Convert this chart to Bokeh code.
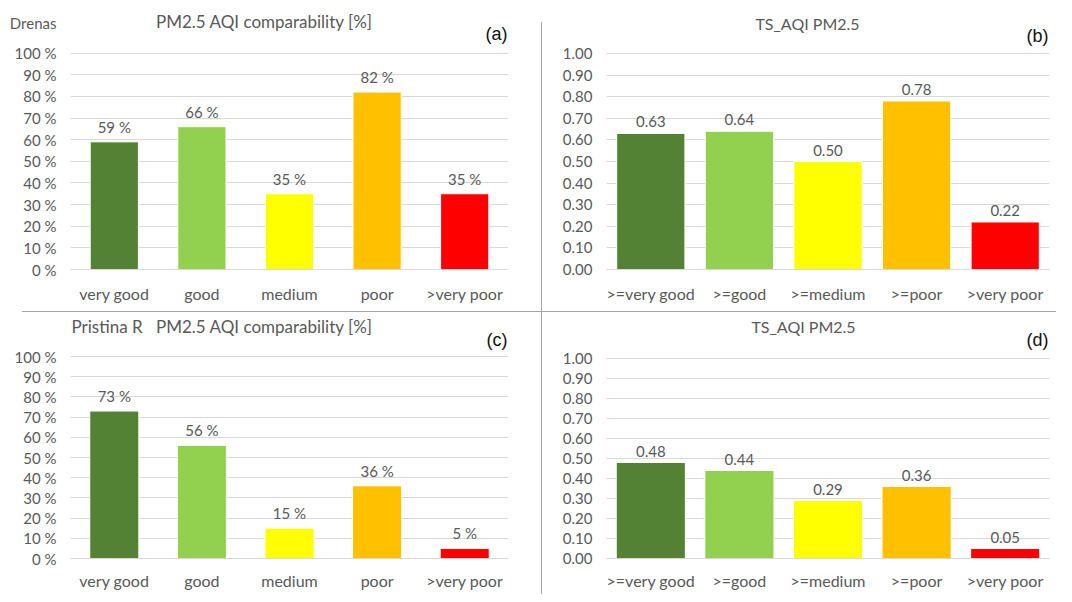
from bokeh.plotting import figure
from bokeh.models import (FactorRange, Range1d, ColumnDataSource, LabelSet, Label,
                          PrintfTickFormatter, FixedTicker, Div)
from bokeh.layouts import row, column
from bokeh.core.properties import value
from bokeh.embed import file_html
from bokeh.resources import INLINE

# ---- data ----
categories_pct = ["very good", "good", "medium", "poor", ">very poor"]
categories_ts = [">=very good", ">=good", ">=medium", ">=poor", ">very poor"]
bar_colors = ["#548235", "#92D050", "#FFFF00", "#FFC000", "#FF0000"]
drenas_pct = [59, 66, 35, 82, 35]
drenas_ts = [0.63, 0.64, 0.50, 0.78, 0.22]
pristina_pct = [73, 56, 15, 36, 5]
pristina_ts = [0.48, 0.44, 0.29, 0.36, 0.05]
pct_ticks = [0, 10, 20, 30, 40, 50, 60, 70, 80, 90, 100]
ts_ticks = [0.0, 0.1, 0.2, 0.3, 0.4, 0.5, 0.6, 0.7, 0.8, 0.9, 1.0]
station_names = ["Drenas", "Pristina R"]
title_pct = "PM2.5 AQI comparability [%]"
title_ts = "TS_AQI PM2.5"
panel_tags = ["(a)", "(b)", "(c)", "(d)"]

FONT = "Lato"
TXT = "#595959"
GRID = "#d9d9d9"
DIVIDER = "#a6a6a6"


def make_panel(w, h, cats, vals, texts, ticks, fmt, bw, left, right, bottom,
               grid_top_px, title, title_cx, title_cy, title_size, tag, tag_rx,
               tag_cy, station=None, station_mode="axis", station_x=0,
               x_standoff=8):
    top_val = ticks[-1]
    fh = h - bottom                       # frame height (frame reaches canvas top)
    y_end = top_val * fh / (fh - grid_top_px)
    p = figure(width=w, height=h, x_range=FactorRange(*cats, range_padding=0),
               y_range=Range1d(0, y_end), output_backend="svg",
               toolbar_location=None, min_border_left=left, min_border_right=right,
               min_border_top=0, min_border_bottom=bottom)
    p.outline_line_color = None
    p.background_fill_color = "white"
    p.border_fill_color = "white"
    src = ColumnDataSource(dict(x=cats, top=vals, color=bar_colors, label=texts))
    p.vbar(x="x", top="top", width=bw, fill_color="color", line_color="white",
           line_width=1, source=src)
    p.add_layout(LabelSet(x="x", y="top", text="label", source=src,
                          text_align="center", text_baseline="bottom", y_offset=6,
                          text_font=value(FONT), text_font_size="15px",
                          text_color=TXT))
    p.xgrid.grid_line_color = None
    p.ygrid.grid_line_color = GRID
    p.ygrid.ticker = FixedTicker(ticks=ticks)
    axis_ticks = list(ticks)
    overrides = {}
    if station and station_mode == "axis":
        st_val = round(top_val * (fh - title_cy) / (fh - grid_top_px), 3)
        axis_ticks.append(st_val)
        overrides[st_val] = station
    p.yaxis.ticker = FixedTicker(ticks=axis_ticks)
    p.yaxis.major_label_overrides = overrides
    p.yaxis.formatter = PrintfTickFormatter(format=fmt)
    p.yaxis.axis_line_color = None
    p.yaxis.major_tick_line_color = None
    p.yaxis.minor_tick_line_color = None
    p.yaxis.major_label_standoff = 8
    p.xaxis.axis_line_color = GRID
    p.xaxis.major_tick_line_color = None
    p.xaxis.major_label_standoff = x_standoff
    for ax in (p.xaxis, p.yaxis):
        ax.major_label_text_font = FONT
        ax.major_label_text_font_size = "15px"
        ax.major_label_text_color = TXT
    p.xaxis.major_label_text_font_size = "16px"
    # title, station and panel tag: screen units relative to the frame
    p.add_layout(Label(x=title_cx - left, y=fh - title_cy, x_units="screen",
                       y_units="screen", text=title, text_align="center",
                       text_baseline="middle", text_font=FONT,
                       text_font_size=title_size, text_color=TXT))
    if station and station_mode == "frame":
        p.add_layout(Label(x=station_x - left, y=fh - title_cy, x_units="screen",
                           y_units="screen", text=station, text_align="left",
                           text_baseline="middle", text_font=FONT,
                           text_font_size="17px", text_color=TXT))
    p.add_layout(Label(x=tag_rx - left, y=fh - tag_cy, x_units="screen",
                       y_units="screen", text=tag, text_align="right",
                       text_baseline="middle", text_font="Liberation Sans",
                       text_font_size="18px", text_color="#111111"))
    return p


pa = make_panel(541, 311, categories_pct, drenas_pct, [f"{v} %" for v in drenas_pct],
                pct_ticks, "%d %%", 0.55, 70, 33, 40, 53,
                title_pct, 264, 23, "17px", panel_tags[0], 507, 35,
                station=station_names[0], station_mode="axis")
pb = make_panel(514, 311, categories_ts, drenas_ts, [f"{v:.2f}" for v in drenas_ts],
                ts_ticks, "%.2f", 0.77, 64, 7, 42, 53,
                title_ts, 265, 23, "16px", panel_tags[1], 506, 35)
pc = make_panel(541, 282, categories_pct, pristina_pct, [f"{v} %" for v in pristina_pct],
                pct_ticks, "%d %%", 0.56, 70, 33, 36, 44,
                title_pct, 264, 14, "17px", panel_tags[2], 507, 27,
                station=station_names[1], station_mode="frame", station_x=71,
                x_standoff=6)
pd_ = make_panel(514, 282, categories_ts, pristina_ts, [f"{v:.2f}" for v in pristina_ts],
                 ts_ticks, "%.2f", 0.78, 64, 7, 36, 46,
                 title_ts, 261, 14, "16px", panel_tags[3], 506, 27, x_standoff=6)

vdiv_top = Div(text="", width=1, height=289, margin=(22, 0, 0, 0),
               styles={"background-color": DIVIDER})
vdiv_bottom = Div(text="", width=1, height=282, margin=(0, 0, 0, 0),
                  styles={"background-color": DIVIDER})
hdiv = Div(text="", width=1034, height=1, margin=(0, 0, 0, 22),
           styles={"background-color": DIVIDER})

layout = column(row(pa, vdiv_top, pb), hdiv, row(pc, vdiv_bottom, pd_))

open("out.html", "w").write(file_html(layout, INLINE))
